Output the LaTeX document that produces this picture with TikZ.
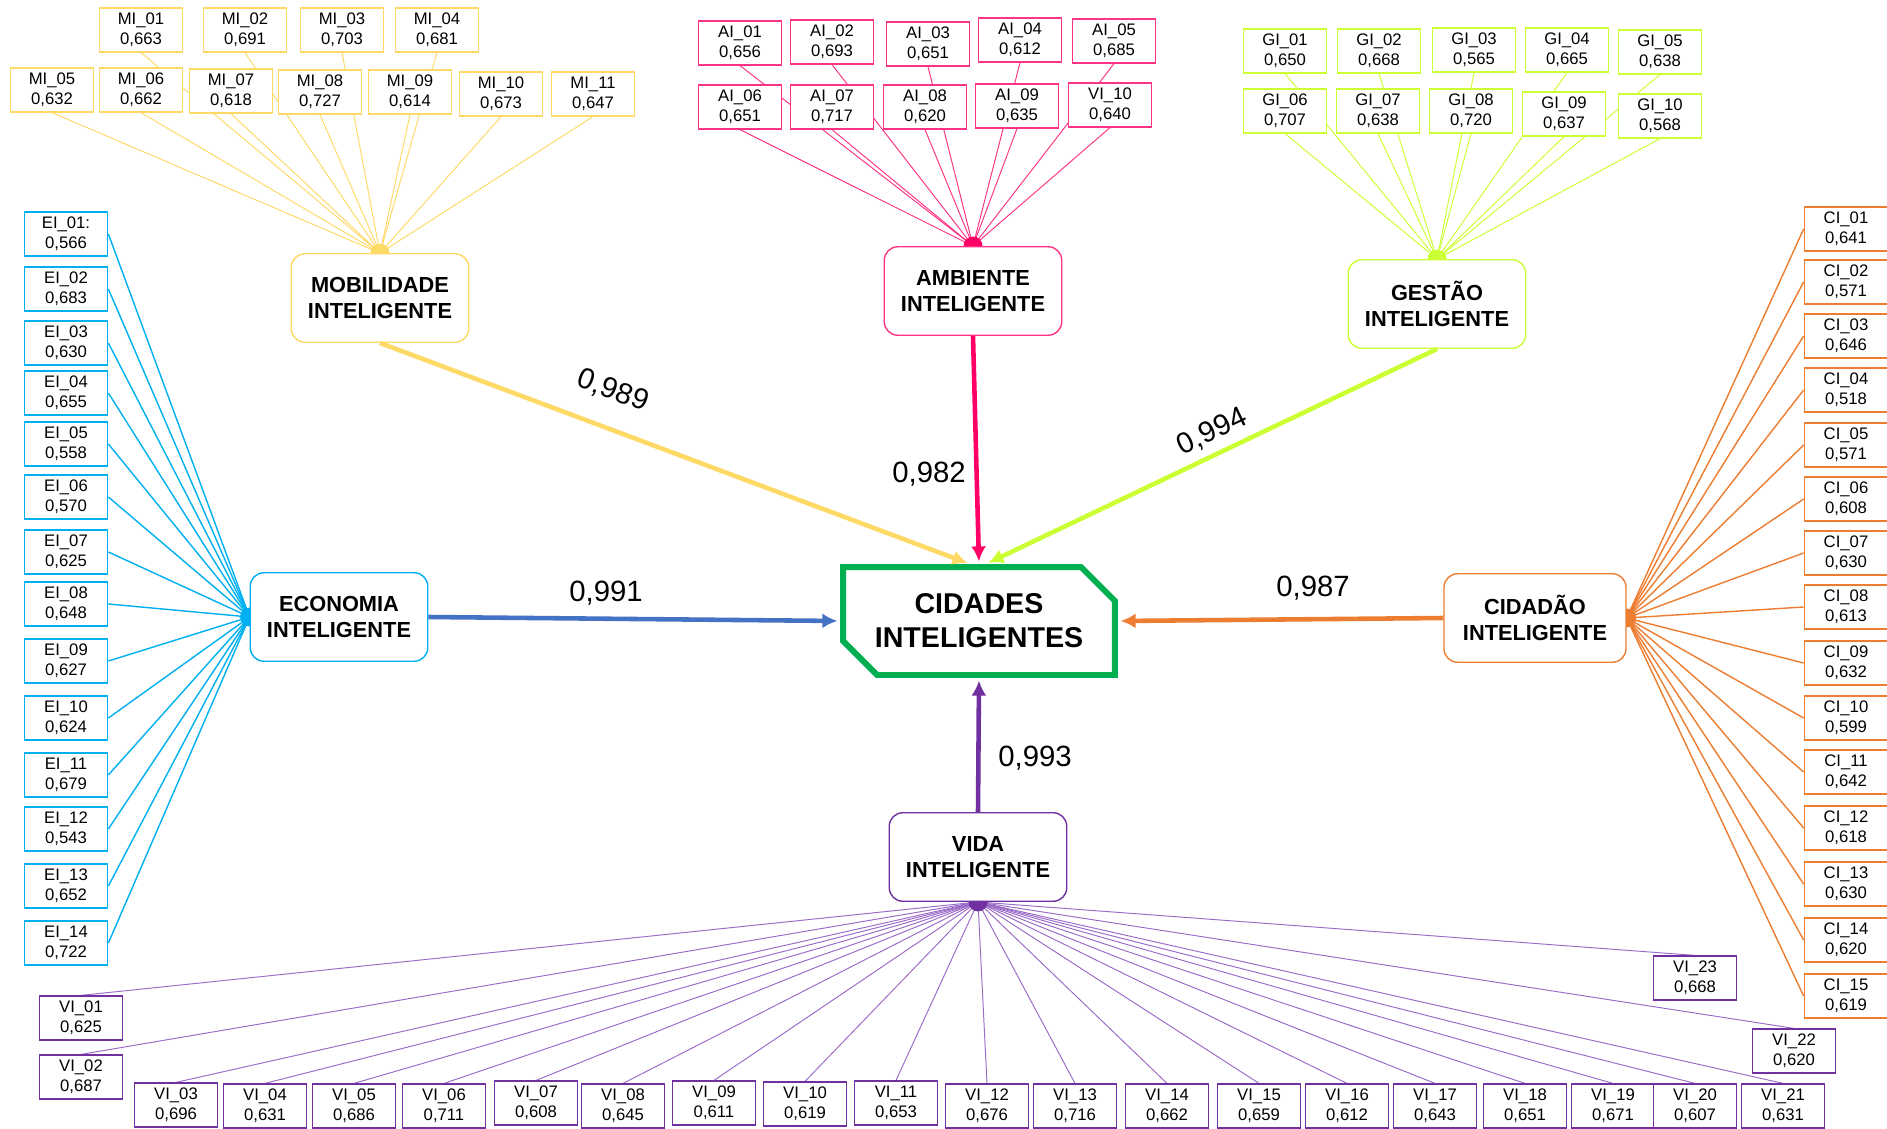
\documentclass[tikz,border=0pt]{standalone}
\usepackage{fontspec}
\setmainfont{Liberation Sans}
\usetikzlibrary{arrows.meta,shapes.misc,backgrounds}
\definecolor{mobcol}{HTML}{FFD966}
\definecolor{ambcol}{HTML}{FF0066}
\definecolor{ambbox}{HTML}{FF3385}
\definecolor{gescol}{HTML}{CCFF33}
\definecolor{ecocol}{HTML}{00B0F0}
\definecolor{ecoarrow}{HTML}{4472C4}
\definecolor{cidcol}{HTML}{ED7D31}
\definecolor{vidcol}{HTML}{7030A0}
\definecolor{vidline}{HTML}{9B6BC8}
\definecolor{smartcol}{HTML}{00B050}

\begin{document}
\begin{tikzpicture}[x=0.02cm,y=-0.02cm,
  ind/.style={draw,fill=white,line width=1pt,minimum width=1.66cm,minimum height=0.87cm,inner sep=0pt,align=center,font=\fontsize{9.5}{11.4}\selectfont},
  lv/.style={draw,fill=white,rounded corners=0.27cm,line width=0.8pt,minimum width=3.55cm,minimum height=1.77cm,inner sep=0pt,align=center,font=\bfseries\fontsize{12.4}{14.8}\selectfont},
  coef/.style={inner sep=1pt,font=\fontsize{16.7}{20}\selectfont},
  link/.style={line width=0.55pt},
  loadarrow/.style={line width=2.6pt,shorten >=1.5pt,-{Latex[length=0.3cm,width=0.3cm]}}]
\useasboundingbox (0,0) rectangle (1887,1129);

% latent variables
\node[lv,draw=mobcol] (mobilidade) at (380,298) {MOBILIDADE\\INTELIGENTE};
\node[lv,draw=ambbox] (ambiente) at (973,291) {AMBIENTE\\INTELIGENTE};
\node[lv,draw=gescol] (gestao) at (1437,304) {GESTÃO\\INTELIGENTE};
\node[lv,draw=ecocol] (economia) at (339,617) {ECONOMIA\\INTELIGENTE};
\node[lv,draw=cidcol,minimum width=3.64cm] (cidadao) at (1535,618) {CIDADÃO\\INTELIGENTE};
\node[lv,draw=vidcol] (vida) at (978,857) {VIDA\\INTELIGENTE};
\node[chamfered rectangle,chamfered rectangle corners={north east,south west},
  chamfered rectangle xsep=0.34cm,chamfered rectangle ysep=0.34cm,
  draw=smartcol,line width=3.4pt,fill=white,minimum width=5.44cm,minimum height=2.16cm,
  align=center,font=\bfseries\fontsize{16.3}{19.2}\selectfont] (cidades) at (979,621) {CIDADES\\INTELIGENTES};

% indicators
\foreach \n/\v/\x/\y in {01/0{,}663/141/30,02/0{,}691/245/30,03/0{,}703/342/30,04/0{,}681/437/30,
  05/0{,}632/52/90,06/0{,}662/141/90,07/0{,}618/231/91,08/0{,}727/320/92,09/0{,}614/410/92,
  10/0{,}673/501/94,11/0{,}647/593/94}
  \node[ind,draw=mobcol] (mi\n) at (\x,\y) {MI\_\n\\\v};

\foreach \n/\v/\x/\y in {01/0{,}656/740/43,02/0{,}693/832/42,03/0{,}651/928/44,04/0{,}612/1020/40,
  05/0{,}685/1114/41,06/0{,}651/740/107,07/0{,}717/832/107,08/0{,}620/925/107,09/0{,}635/1017/106}
  \node[ind,draw=ambbox] (ai\n) at (\x,\y) {AI\_\n\\\v};
\node[ind,draw=ambbox] (ai10) at (1110,105) {VI\_10\\0,640};

\foreach \n/\v/\x/\y in {01/0{,}650/1285/51,02/0{,}668/1379/51,03/0{,}565/1474/50,04/0{,}665/1567/50,
  05/0{,}638/1660/52,06/0{,}707/1285/111,07/0{,}638/1378/111,08/0{,}720/1471/111,
  09/0{,}637/1564/114,10/0{,}568/1660/116}
  \node[ind,draw=gescol] (gi\n) at (\x,\y) {GI\_\n\\\v};

\node[ind,draw=ecocol] (ei01) at (66,234) {EI\_01:\\0,566};
\foreach \n/\v/\y in {02/0{,}683/289,03/0{,}630/343,04/0{,}655/393,05/0{,}558/444,06/0{,}570/497,
  07/0{,}625/552,08/0{,}648/604,09/0{,}627/661,10/0{,}624/718,11/0{,}679/775,12/0{,}543/829,
  13/0{,}652/886,14/0{,}722/943}
  \node[ind,draw=ecocol] (ei\n) at (66,\y) {EI\_\n\\\v};

\foreach \n/\v/\y in {01/0{,}641/229,02/0{,}571/282,03/0{,}646/336,04/0{,}518/390,05/0{,}571/445,
  06/0{,}608/499,07/0{,}630/553,08/0{,}613/607,09/0{,}632/663,10/0{,}599/718,11/0{,}642/772,
  12/0{,}618/828,13/0{,}630/884,14/0{,}620/940,15/0{,}619/996}
  \node[ind,draw=cidcol] (ci\n) at (1846,\y) {CI\_\n\\\v};

\foreach \n/\v/\x/\y in {01/0{,}625/81/1018,02/0{,}687/81/1077,03/0{,}696/176/1105,04/0{,}631/265/1106,
  05/0{,}686/354/1106,06/0{,}711/444/1106,07/0{,}608/536/1103,08/0{,}645/623/1106,09/0{,}611/714/1103,
  10/0{,}619/805/1104,11/0{,}653/896/1103,12/0{,}676/987/1106,13/0{,}716/1075/1106,14/0{,}662/1167/1106,
  15/0{,}659/1259/1106,16/0{,}612/1347/1106,17/0{,}643/1435/1106,18/0{,}651/1525/1106,
  19/0{,}671/1613/1106,20/0{,}607/1695/1106,21/0{,}631/1783/1106,22/0{,}620/1794/1051,23/0{,}668/1695/978}
  \node[ind,draw=vidcol] (vi\n) at (\x,\y) {VI\_\n\\\v};

% loadings of the indicators
\begin{pgfonlayer}{background}
\foreach \n in {01,02,03,04,05,06,07,08,09,10,11}
  \draw[link,mobcol] (mi\n.south) -- (mobilidade.north);
\foreach \n in {01,02,03,04,05,06,07,08,09,10}
  \draw[link,ambbox] (ai\n.south) -- (ambiente.north);
\foreach \n in {01,02,03,04,05,06,07,08,09,10}
  \draw[link,gescol] (gi\n.south) -- (gestao.north);
\foreach \n in {01,02,03,04,05,06,07,08,09,10,11,12,13,14}
  \draw[link,ecocol,line width=0.8pt] (ei\n.east) -- (economia.west);
\foreach \n in {01,02,03,04,05,06,07,08,09,10,11,12,13,14,15}
  \draw[link,cidcol,line width=0.8pt] (ci\n.west) -- (cidadao.east);
\foreach \n in {01,02,03,04,05,06,07,08,09,10,11,12,13,14,15,16,17,18,19,20,21,22,23}
  \draw[link,vidline] (vi\n.north) -- (vida.south);
\fill[mobcol] (mobilidade.north) circle[radius=0.19cm];
\fill[ambcol] (ambiente.north) circle[radius=0.19cm];
\fill[gescol] (gestao.north) circle[radius=0.19cm];
\fill[ecocol] (economia.west) circle[radius=0.19cm];
\fill[cidcol] (cidadao.east) circle[radius=0.19cm];
\fill[vidcol] (vida.south) circle[radius=0.19cm];
\end{pgfonlayer}

% structural paths
\draw[loadarrow,mobcol] (mobilidade.south) -- ([xshift=-0.18cm]cidades.north);
\draw[loadarrow,ambcol] (ambiente.south) -- (cidades.north);
\draw[loadarrow,gescol] (gestao.south) -- ([xshift=0.14cm]cidades.north);
\draw[loadarrow,ecoarrow] (economia.east) -- (cidades.west);
\draw[loadarrow,cidcol] (cidadao.west) -- (cidades.east);
\draw[loadarrow,vidcol] (vida.north) -- (cidades.south);

\node[coef,rotate=-20.5] (wmob) at (613,391) {0,989};
\node[coef] (wamb) at (929,474) {0,982};
\node[coef,rotate=25.5] (wges) at (1212,432) {0,994};
\node[coef] (weco) at (606,593) {0,991};
\node[coef] (wcid) at (1313,588) {0,987};
\node[coef] (wvid) at (1035,758) {0,993};
\end{tikzpicture}
\end{document}
